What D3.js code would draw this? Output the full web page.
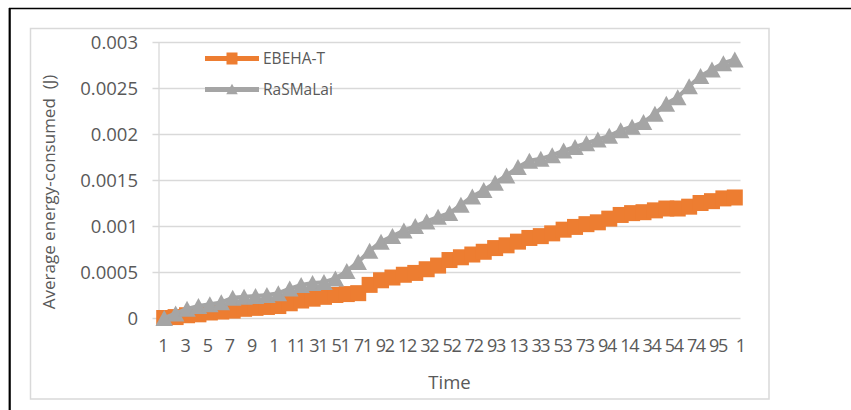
<!DOCTYPE html>
<html><head><meta charset="utf-8">
<script src="https://cdn.jsdelivr.net/npm/d3@7"></script>
<style>body{margin:0;background:#fff}svg{display:block}</style>
</head><body><svg id="c" width="851" height="410"></svg>
<script>
const categories = [1,2,3,4,5,6,7,8,9,10,11,12,13,14,15,16,17,18,19,20,21,22,23,24,25,26,27,28,29,30,31,32,33,34,35,36,37,38,39,40,41,42,43,44,45,46,47,48,49,50,51];
const xTickLabels = ["1","3","5","7","9","1","11","31","51","71","92","12","32","52","72","93","13","33","53","73","94","14","34","54","74","95","1"];
const yTicks = [0,0.0005,0.001,0.0015,0.002,0.0025,0.003];
const yTickLabels = ["0","0.0005","0.001","0.0015","0.002","0.0025","0.003"];
const seriesNames = ["EBEHA-T","RaSMaLai"];
const ebehaT = [0,0.00001,0.00003,0.00004,0.00006,0.00007,0.00008,0.0001,0.00011,0.00012,0.00013,0.00016,0.00019,0.00021,0.00023,0.00025,0.00026,0.00027,0.00036,0.00041,0.00044,0.00047,0.00049,0.00053,0.00057,0.00063,0.00066,0.00069,0.00072,0.00076,0.00079,0.00083,0.00087,0.00089,0.00092,0.00096,0.00099,0.00102,0.00104,0.00108,0.00112,0.00114,0.00115,0.00117,0.00119,0.00119,0.00121,0.00125,0.00127,0.0013,0.00131];
const rasmalai = [0,0.00005,0.0001,0.00013,0.00015,0.00017,0.00022,0.00023,0.00024,0.00025,0.00027,0.00032,0.00036,0.00038,0.00039,0.00043,0.00051,0.00061,0.00073,0.00083,0.00089,0.00095,0.001,0.00105,0.0011,0.00114,0.00123,0.00132,0.00139,0.00147,0.00155,0.00164,0.00171,0.00173,0.00177,0.00182,0.00186,0.0019,0.00194,0.00198,0.00204,0.00208,0.00213,0.00222,0.00233,0.0024,0.00252,0.00263,0.0027,0.00277,0.00281];
const seriesColors = ["#ED7D31","#A5A5A5"];

const svg = d3.select("#c");
const L = 158.5, R = 740.5, T = 42, B = 318;
const FONT = "'Open Sans', sans-serif";
const TXT = "#595959", GRID = "#d9d9d9";

// outer borders
svg.append("line").attr("x1",9).attr("x2",851).attr("y1",8.5).attr("y2",8.5).attr("stroke","#000").attr("stroke-width",1.6);
svg.append("line").attr("x1",9.7).attr("x2",9.7).attr("y1",8).attr("y2",410).attr("stroke","#000").attr("stroke-width",2.2);
svg.append("rect").attr("x",30.5).attr("y",28.5).attr("width",738.5).attr("height",370.5)
  .attr("fill","#fff").attr("stroke",GRID).attr("stroke-width",1.5);

const x = d3.scaleBand().domain(categories).range([L,R]).padding(0);
const cx = c => x(c) + x.bandwidth()/2;
const y = d3.scaleLinear().domain([0,0.003]).range([B,T]);

// y axis + gridlines
const ya = svg.append("g").attr("transform",`translate(${L},0)`)
  .call(d3.axisLeft(y).tickValues(yTicks).tickFormat((d,i)=>yTickLabels[i])
    .tickSizeInner(-(R-L)).tickSizeOuter(0).tickPadding(20.5));
ya.select(".domain").attr("stroke",GRID).attr("stroke-width",1.3);
ya.selectAll(".tick line").attr("x1",-6).attr("stroke",GRID).attr("stroke-width",1.3);
ya.selectAll(".tick text").attr("font-family",FONT).attr("font-size",18.5).attr("fill",TXT).attr("dy","0.36em");

// x axis labels
const xl = d3.scalePoint().domain(d3.range(xTickLabels.length)).range([cx(1)-2, cx(51)+5]);
const xa = svg.append("g").attr("transform",`translate(0,${B})`)
  .call(d3.axisBottom(xl).tickFormat(i=>xTickLabels[i]).tickSize(0).tickPadding(21));
xa.select(".domain").remove();
xa.selectAll(".tick text").attr("font-family",FONT).attr("font-size",18).attr("fill",TXT)
  .attr("letter-spacing","-1.3px");

// titles
svg.append("text").attr("x",(L+R)/2).attr("y",389).attr("text-anchor","middle")
  .attr("font-family",FONT).attr("font-size",18.5).attr("fill",TXT).text("Time");
svg.append("text").attr("transform","translate(54.5,192) rotate(-90)").attr("text-anchor","middle")
  .attr("font-family",FONT).attr("font-size",17).attr("fill",TXT)
  .text("Average energy-consumed\u00a0 (J)");

// series
const line = d3.line().x((d,i)=>cx(categories[i])).y(d=>y(d));
const tri = (px,py,w,h) => `M${px},${py-h/2}L${px+w/2},${py+h/2}L${px-w/2},${py+h/2}Z`;
const sq = 16, tw = 17.5, th = 16;

function drawSeries(vals, color, kind){
  const g = svg.append("g");
  g.append("path").datum(vals).attr("d",line).attr("fill","none").attr("stroke",color).attr("stroke-width",4);
  if(kind==="square"){
    g.selectAll("rect").data(vals).join("rect")
      .attr("x",(d,i)=>cx(categories[i])-sq/2).attr("y",d=>y(d)-sq/2)
      .attr("width",sq).attr("height",sq).attr("fill",color);
  } else {
    g.selectAll("path.m").data(vals).join("path").attr("class","m")
      .attr("d",(d,i)=>tri(cx(categories[i]),y(d),tw,th)).attr("fill",color);
  }
}
drawSeries(ebehaT, seriesColors[0], "square");
drawSeries(rasmalai, seriesColors[1], "triangle");

// legend
const lg = svg.append("g");
[0,1].forEach(k=>{
  const ly = [58.5,89.5][k];
  lg.append("line").attr("x1",205).attr("x2",259).attr("y1",ly).attr("y2",ly)
    .attr("stroke",seriesColors[k]).attr("stroke-width",5);
  if(k===0) lg.append("rect").attr("x",232-5.5).attr("y",ly-6).attr("width",11).attr("height",12).attr("fill",seriesColors[k]);
  else lg.append("path").attr("d",tri(232,ly-0.5,11.5,10.5)).attr("fill",seriesColors[k]);
  lg.append("text").attr("x",263).attr("y",ly).attr("dy","0.36em").attr("font-family",FONT)
    .attr("font-size",15.5).attr("fill",TXT).text(seriesNames[k]);
});
</script></body></html>
